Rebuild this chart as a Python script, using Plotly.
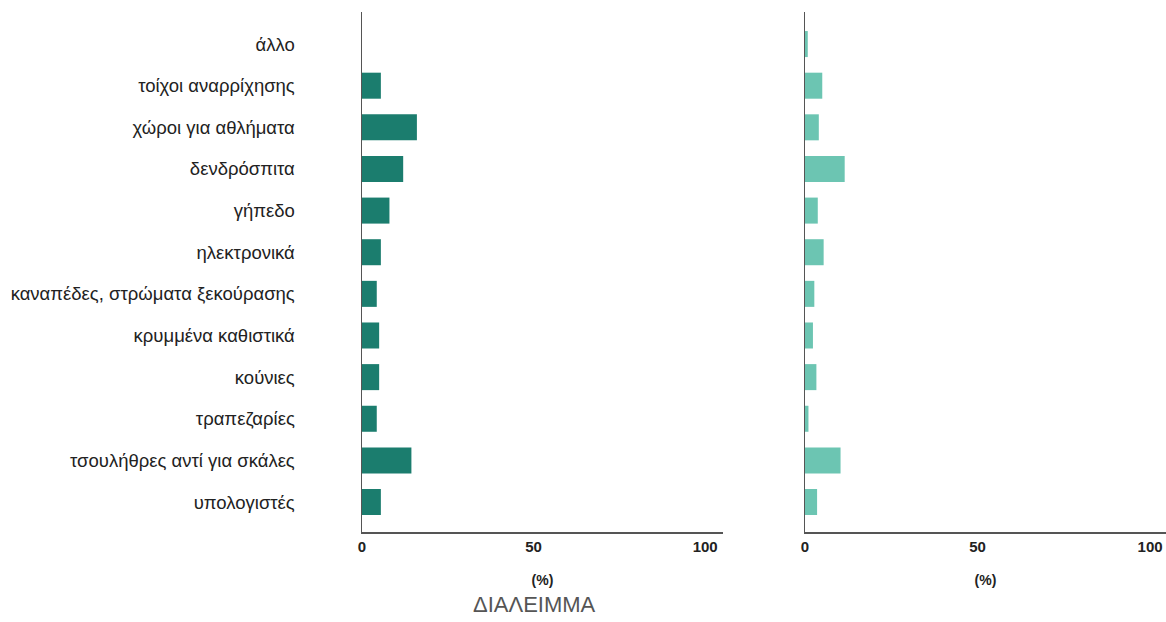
import plotly.graph_objects as go
from plotly.subplots import make_subplots

categories = [
    "άλλο",
    "τοίχοι αναρρίχησης",
    "χώροι για αθλήματα",
    "δενδρόσπιτα",
    "γήπεδο",
    "ηλεκτρονικά",
    "καναπέδες, στρώματα ξεκούρασης",
    "κρυμμένα καθιστικά",
    "κούνιες",
    "τραπεζαρίες",
    "τσουλήθρες αντί για σκάλες",
    "υπολογιστές",
]
left_values = [0, 5.5, 16, 12, 8, 5.5, 4.3, 5, 5, 4.3, 14.4, 5.5]
right_values = [0.8, 5, 4, 11.5, 3.7, 5.4, 2.7, 2.3, 3.3, 1, 10.3, 3.5]
x_ticks = [0, 50, 100]

left_color = "#1b7d6e"
right_color = "#6cc5b2"
FONT = "Liberation Sans, Arial, Helvetica, sans-serif"

fig = make_subplots(rows=1, cols=2, shared_yaxes=False, horizontal_spacing=0.1)

fig.add_trace(go.Bar(y=categories, x=left_values, orientation="h",
                     marker=dict(color=left_color, line=dict(width=0)),
                     showlegend=False), row=1, col=1)
fig.add_trace(go.Bar(y=categories, x=right_values, orientation="h",
                     marker=dict(color=right_color, line=dict(width=0)),
                     showlegend=False), row=1, col=2)

axis_common = dict(
    tickvals=x_ticks,
    ticktext=[str(v) for v in x_ticks],
    showgrid=False,
    zeroline=False,
    showline=True,
    linecolor="#555555",
    linewidth=1.5,
    ticks="",
    tickfont=dict(family=FONT, size=15, color="#222222", weight="bold"),
    title=dict(text="(%)", font=dict(family=FONT, size=14, color="#222222", weight="bold"), standoff=21),
    ticklabeloverflow="allow",
    fixedrange=True,
)

fig.update_xaxes(domain=[0, 0.449], range=[0, 105.2], **axis_common, row=1, col=1)
fig.update_xaxes(domain=[0.551, 1.0], range=[0, 104.6], **axis_common, row=1, col=2)

yaxis_common = dict(
    range=[11.72, -0.77],
    showgrid=False,
    zeroline=False,
    showline=True,
    linecolor="#555555",
    linewidth=1.5,
    ticks="",
)
fig.update_yaxes(**yaxis_common, showticklabels=True, ticklabelstandoff=62,
                 tickfont=dict(family=FONT, size=18.5, color="#222222"),
                 row=1, col=1)
fig.update_yaxes(**yaxis_common, showticklabels=False, row=1, col=2)

fig.add_annotation(text="ΔΙΑΛΕΙΜΜΑ", xref="paper", yref="paper", x=0.214, y=-0.140,
                   showarrow=False, xanchor="center", yanchor="middle",
                   font=dict(family=FONT, size=22, color="#555555"))

fig.update_layout(
    width=1166, height=622,
    margin=dict(l=362, r=0, t=12, b=90),
    paper_bgcolor="white", plot_bgcolor="white",
    bargap=0.375,
)

fig.write_html("out.html",
               config={"displayModeBar": False, "staticPlot": True},
               post_script="document.body.style.margin='0';document.body.style.overflow='hidden';")
